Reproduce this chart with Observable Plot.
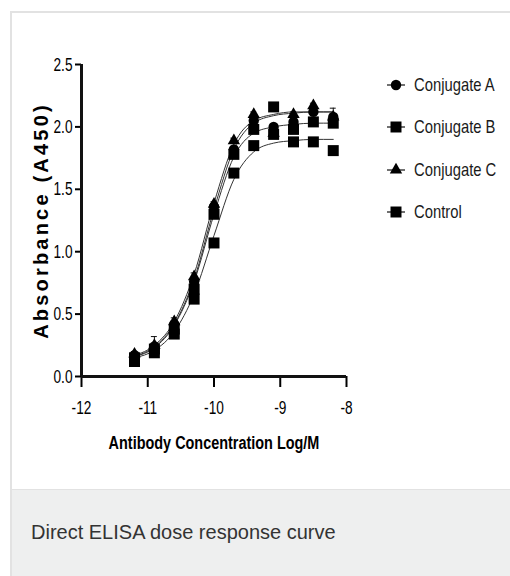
<!DOCTYPE html>
<html>
<head>
<meta charset="utf-8">
<script src="https://cdn.jsdelivr.net/npm/d3@7"></script>
<script src="https://cdn.jsdelivr.net/npm/@observablehq/plot@0.6"></script>
<style>
  html, body { margin: 0; padding: 0; background: #fff; }
  #page { position: relative; width: 510px; height: 576px; overflow: hidden; background: #fff; }
  #card { position: absolute; left: 10px; top: 11px; width: 520px; height: 478px; border-top: 2px solid #e2e2e2; border-left: 2px solid #e2e2e2; box-sizing: border-box; }
  #plot { position: absolute; left: 0; top: 0; }
  #caption { position: absolute; left: 10px; top: 489px; width: 520px; height: 87px; background: #eeefef; border-left: 2px solid #e2e2e2; border-top: 1px solid #e2e2e2; box-sizing: border-box; }
  #caption span { position: absolute; left: 19px; top: 31px; font-family: "Liberation Sans", Arial, sans-serif; font-size: 20px; color: #333; white-space: nowrap; }
  #legend { position: absolute; left: 384px; top: 0; }
  .lg { position: absolute; left: 0; height: 22px; width: 130px; font-family: "Liberation Sans", Arial, sans-serif; font-size: 18.5px; color: #1a1a1a; white-space: nowrap; }
  .lg svg { position: absolute; left: 0; top: 0; }
  .lg span { position: absolute; left: 30px; top: 0; line-height: 22px; transform: scaleX(0.8); transform-origin: 0 50%; }
</style>
</head>
<body>
<div id="page">
  <div id="card"></div>
  <div id="plot"></div>
  <div id="legend"></div>
  <div id="caption"><span>Direct ELISA dose response curve</span></div>
</div>
<script>
// ---- data ----
const concLog = [-11.2, -10.9, -10.6, -10.3, -10.0, -9.7, -9.4, -9.1, -8.8, -8.5, -8.2];
const conjA   = [0.17, 0.24, 0.42, 0.76, 1.36, 1.82, 2.05, 2.00, 2.04, 2.12, 2.08];
const conjB   = [0.15, 0.22, 0.38, 0.70, 1.30, 1.78, 1.98, 2.16, 1.98, 2.04, 2.03];
const conjC   = [0.18, 0.25, 0.44, 0.80, 1.38, 1.89, 2.10, 1.95, 2.10, 2.17, 2.08];
const control = [0.12, 0.19, 0.34, 0.62, 1.07, 1.63, 1.85, 1.94, 1.88, 1.88, 1.81];
const errC    = [0.02, 0.07, 0.03, 0.03, 0.02, 0.02, 0.02, 0.02, 0.02, 0.02, 0.07];
// fitted curves, read at the same concentrations
const fitA    = [0.16, 0.24, 0.42, 0.78, 1.34, 1.82, 2.03, 2.09, 2.11, 2.12, 2.12];
const fitB    = [0.16, 0.23, 0.41, 0.76, 1.30, 1.76, 1.95, 2.00, 2.02, 2.03, 2.03];
const fitC    = [0.17, 0.25, 0.44, 0.82, 1.39, 1.86, 2.05, 2.10, 2.12, 2.12, 2.12];
const fitCtrl = [0.15, 0.21, 0.36, 0.66, 1.13, 1.58, 1.80, 1.87, 1.89, 1.90, 1.90];
const seriesNames = ["Conjugate A", "Conjugate B", "Conjugate C", "Control"];
const seriesSymbols = ["circle", "square", "triangle", "square"];
const xTicks = [-12, -11, -10, -9, -8];
const yTicks = [0, 0.5, 1.0, 1.5, 2.0, 2.5];

const values = [conjA, conjB, conjC, control];
const fits = [fitA, fitB, fitC, fitCtrl];
const symR = {circle: 5.2, square: 6.2, triangle: 4.6};

const points = [];
const fitRows = [];
seriesNames.forEach((name, s) => {
  concLog.forEach((x, i) => {
    points.push({series: name, sym: seriesSymbols[s], x, y: values[s][i]});
    fitRows.push({series: name, x, y: fits[s][i]});
  });
});
const errRows = concLog.map((x, i) => ({x, y: conjC[i], e: errC[i]}));

const sans = '"Liberation Sans", Arial, sans-serif';

const chart = Plot.plot({
  width: 510,
  height: 480,
  marginLeft: 81,
  marginRight: 164,
  marginTop: 64,
  marginBottom: 104,
  style: {fontFamily: sans, color: "#000", background: "transparent", overflow: "visible"},
  x: {domain: [-12, -8]},
  y: {domain: [0, 2.5]},
  marks: [
    Plot.axisX({ticks: xTicks, tickSize: 11, tickPadding: 13, strokeWidth: 2, fontSize: 19,
      tickFormat: d => String(d),
      label: "Antibody Concentration Log/M", labelAnchor: "center", labelOffset: 72}),
    Plot.axisY({ticks: yTicks, tickSize: 6, tickPadding: 3, strokeWidth: 2, fontSize: 19,
      tickFormat: d3.format(".1f"),
      label: "Absorbance (A450)", labelAnchor: "center", labelOffset: 48}),
    Plot.ruleX([-12], {stroke: "#111", strokeWidth: 3}),
    Plot.ruleY([0], {stroke: "#111", strokeWidth: 3}),
    Plot.line(fitRows, {x: "x", y: "y", z: "series", stroke: "#333", strokeWidth: 1, curve: "monotone-x"}),
    Plot.ruleX(errRows, {x: "x", y1: d => d.y - d.e, y2: d => d.y + d.e, stroke: "#111", strokeWidth: 1}),
    Plot.ruleY(errRows, {x1: d => d.x - 0.045, x2: d => d.x + 0.045, y: d => d.y + d.e, stroke: "#111", strokeWidth: 1}),
    ...seriesNames.map((name, s) =>
      Plot.dot(points.filter(p => p.series === name), {x: "x", y: "y", symbol: () => seriesSymbols[s], r: symR[seriesSymbols[s]], fill: "#000", stroke: "none"})
    )
  ]
});
const root = d3.select(chart);
// condense a text horizontally around its anchor
function condense(sel, k) {
  sel.each(function () {
    const t = d3.select(this);
    const tr = t.attr("transform") || "";
    t.attr("transform", (tr + ` scale(${k},1)`).trim());
  });
}
// strip arrows from axis labels
root.selectAll("g[aria-label='x-axis label'] text, g[aria-label='y-axis label'] text").each(function () {
  const t = d3.select(this);
  t.text(t.text().replace(/[\u2191\u2192\u2190\u2193]/g, "").trim());
}).attr("font-weight", "bold").attr("fill", "#000");
root.selectAll("g[aria-label='y-axis label'] text")
  .attr("font-size", 20).attr("letter-spacing", "3.2px");
root.selectAll("g[aria-label='x-axis label'] text").attr("font-size", 19);
condense(root.selectAll("g[aria-label='x-axis label'] text"), 0.76);
condense(root.selectAll("g[aria-label='x-axis tick label'] text, g[aria-label='y-axis tick label'] text"), 0.72);
root.selectAll("g[aria-label='x-axis tick label'] text, g[aria-label='y-axis tick label'] text").attr("fill", "#000");
document.getElementById("plot").appendChild(chart);

// legend
const legend = d3.select("#legend");
const legendTop = [74, 116, 159, 201];
seriesNames.forEach((name, s) => {
  const row = legend.append("div").attr("class", "lg").style("top", legendTop[s] + "px");
  const svg = row.append("svg").attr("width", 26).attr("height", 22);
  svg.append("line").attr("x1", 3).attr("x2", 21).attr("y1", 11).attr("y2", 11).attr("stroke", "#111").attr("stroke-width", 1.2);
  const r = symR[seriesSymbols[s]];
  const sym = {circle: d3.symbolCircle, square: d3.symbolSquare, triangle: d3.symbolTriangle}[seriesSymbols[s]];
  svg.append("path").attr("transform", "translate(12,11)").attr("d", d3.symbol(sym, Math.PI * r * r)()).attr("fill", "#000");
  row.append("span").text(name);
});
</script>
</body>
</html>
